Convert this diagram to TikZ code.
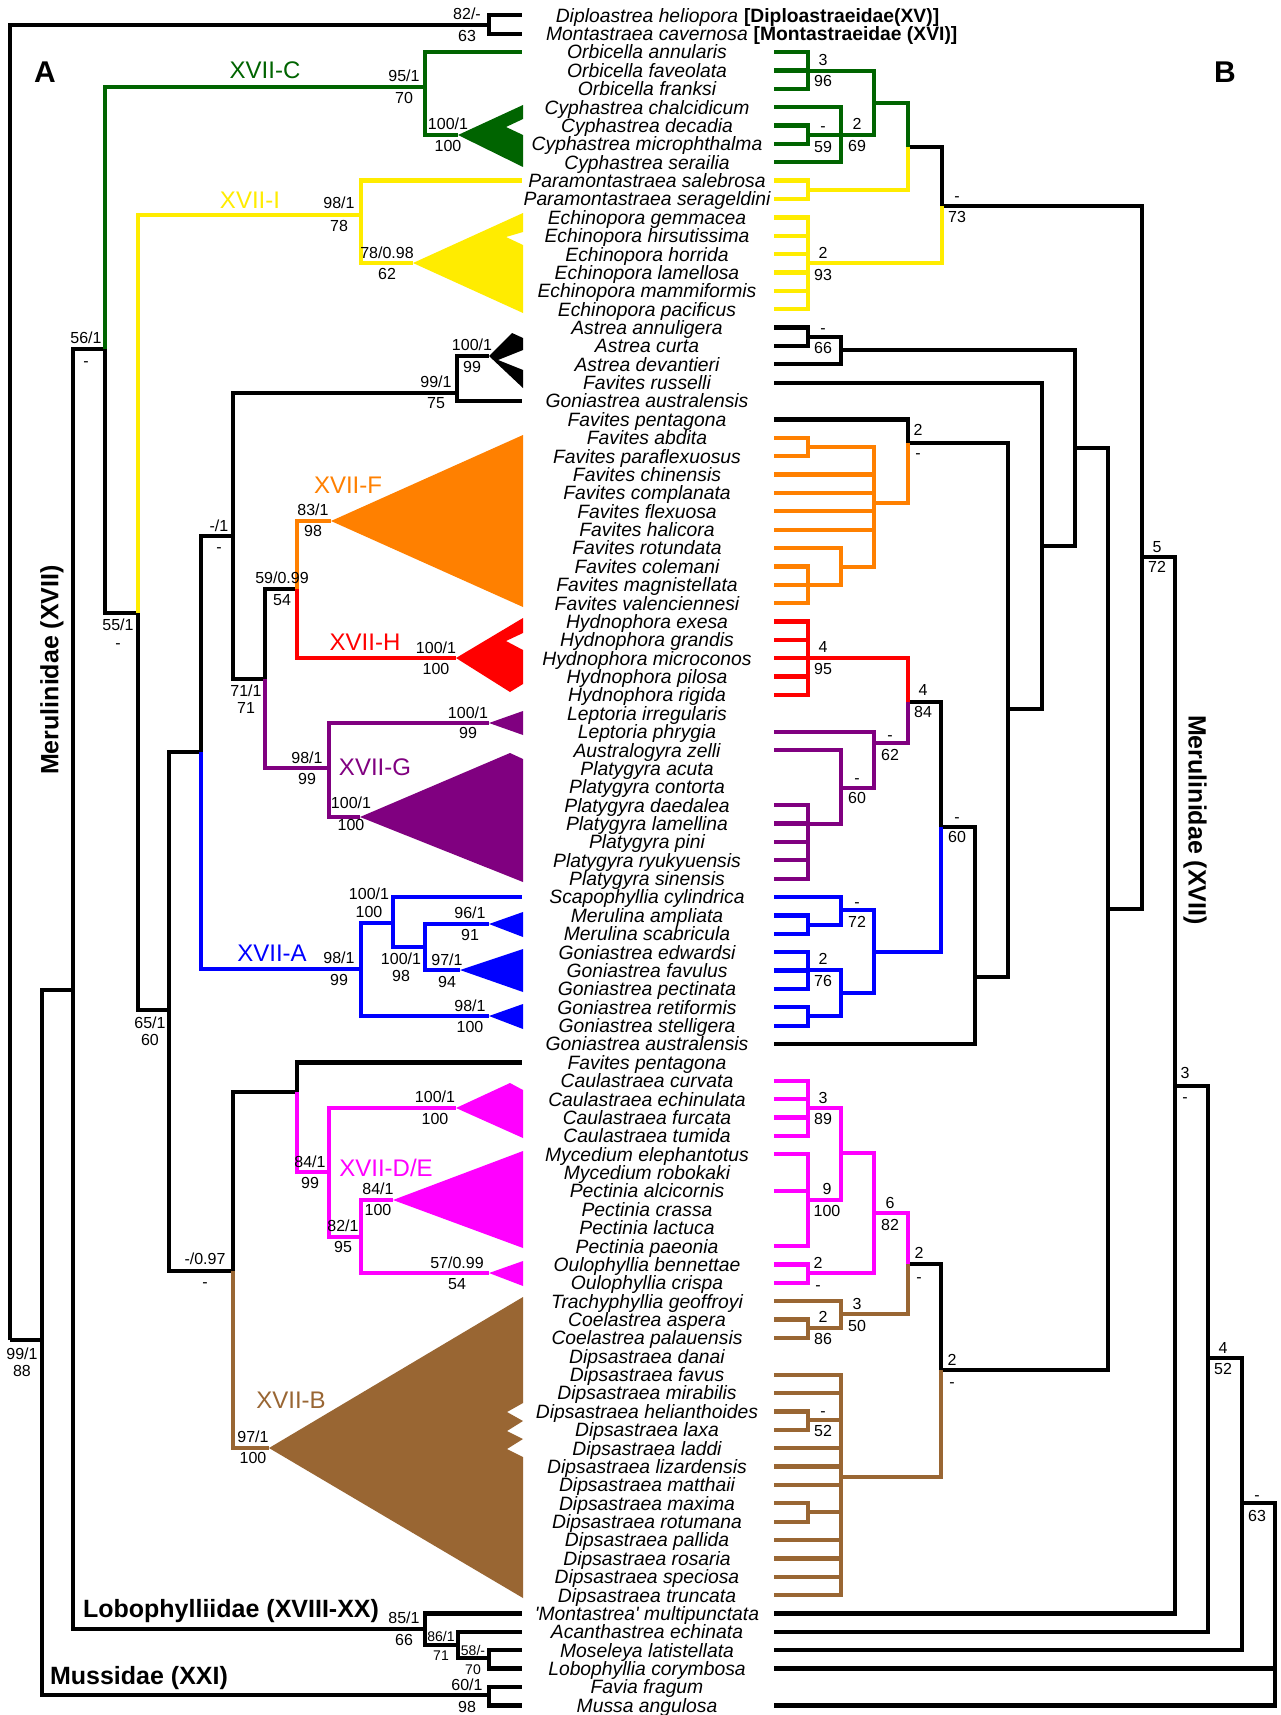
\documentclass[tikz,border=0pt]{standalone}
\usepackage{fontspec}
\setmainfont{Liberation Sans}

\definecolor{cladeC}{HTML}{006400}
\definecolor{cladeI}{HTML}{FFEC00}
\definecolor{cladeF}{HTML}{FF8000}
\definecolor{cladeH}{HTML}{FF0000}
\definecolor{cladeG}{HTML}{800080}
\definecolor{cladeA}{HTML}{0000FF}
\definecolor{cladeD}{HTML}{FF00FF}
\definecolor{cladeB}{HTML}{996633}

\tikzset{
  branch/.style={line width=4.3pt, line join=miter},
  taxon/.style={font=\fontsize{19.3}{22}\selectfont\itshape, anchor=base, yshift=-6.9pt, inner sep=0pt},
  fam/.style={font=\fontsize{19.3}{22}\selectfont\bfseries, anchor=base west, inner sep=0pt},
  bs/.style={font=\fontsize{16}{18}\selectfont, anchor=base, yshift=-5.7pt, inner sep=0pt},
  bss/.style={font=\fontsize{14}{16}\selectfont, anchor=base, yshift=-5pt, inner sep=0pt},
  clade/.style={font=\fontsize{24}{26}\selectfont, anchor=base, yshift=-8.6pt, inner sep=0pt},
  family/.style={font=\fontsize{25}{28}\selectfont\bfseries, inner sep=0pt},
  panel/.style={font=\fontsize{30}{32}\selectfont\bfseries, anchor=base, yshift=-10.7pt, inner sep=0pt}
}

% support values: name, x, y of upper and lower value
\newcommand{\bsl}[7][bs]{%
  \node[#1] (#2t) at (#3,#4) {#6};
  \node[#1] (#2b) at (#3,#5) {#7};}

\begin{document}
\begin{tikzpicture}[x=1pt,y=-1pt]
\useasboundingbox (0,0) rectangle (1280,1715);
\fill[white] (0,0) rectangle (1280,1715);

% taxa, with tip points of both trees
\foreach \nm [count=\i] in {Diploastrea heliopora, Montastraea cavernosa,
  Orbicella annularis, Orbicella faveolata, Orbicella franksi,
  Cyphastrea chalcidicum, Cyphastrea decadia, Cyphastrea microphthalma, Cyphastrea serailia,
  Paramontastraea salebrosa, Paramontastraea serageldini,
  Echinopora gemmacea, Echinopora hirsutissima, Echinopora horrida, Echinopora lamellosa,
  Echinopora mammiformis, Echinopora pacificus,
  Astrea annuligera, Astrea curta, Astrea devantieri, Favites russelli, Goniastrea australensis,
  Favites pentagona, Favites abdita, Favites paraflexuosus, Favites chinensis, Favites complanata,
  Favites flexuosa, Favites halicora, Favites rotundata, Favites colemani, Favites magnistellata,
  Favites valenciennesi,
  Hydnophora exesa, Hydnophora grandis, Hydnophora microconos, Hydnophora pilosa, Hydnophora rigida,
  Leptoria irregularis, Leptoria phrygia, Australogyra zelli,
  Platygyra acuta, Platygyra contorta, Platygyra daedalea, Platygyra lamellina, Platygyra pini,
  Platygyra ryukyuensis, Platygyra sinensis,
  Scapophyllia cylindrica, Merulina ampliata, Merulina scabricula,
  Goniastrea edwardsi, Goniastrea favulus, Goniastrea pectinata, Goniastrea retiformis,
  Goniastrea stelligera, Goniastrea australensis, Favites pentagona,
  Caulastraea curvata, Caulastraea echinulata, Caulastraea furcata, Caulastraea tumida,
  Mycedium elephantotus, Mycedium robokaki,
  Pectinia alcicornis, Pectinia crassa, Pectinia lactuca, Pectinia paeonia,
  Oulophyllia bennettae, Oulophyllia crispa,
  Trachyphyllia geoffroyi, Coelastrea aspera, Coelastrea palauensis,
  Dipsastraea danai, Dipsastraea favus, Dipsastraea mirabilis, Dipsastraea helianthoides,
  Dipsastraea laxa, Dipsastraea laddi, Dipsastraea lizardensis, Dipsastraea matthaii,
  Dipsastraea maxima, Dipsastraea rotumana, Dipsastraea pallida, Dipsastraea rosaria,
  Dipsastraea speciosa, Dipsastraea truncata,
  \textquotesingle Montastrea\textquotesingle\ multipunctata, Acanthastrea echinata,
  Moseleya latistellata, Lobophyllia corymbosa, Favia fragum, Mussa angulosa}
{
  \pgfmathsetmacro{\yy}{15.3+(\i-1)*18.37}
  \node[taxon] (t\i) at (647,\yy) {\nm};
  \coordinate (L\i) at (522,\yy);
  \coordinate (R\i) at (774,\yy);
}
\node[fam] (f1) at ([xshift=5.4pt]t1.base east) {[Diploastraeidae(XV)]};
\node[fam] (f2) at ([xshift=5.4pt]t2.base east) {[Montastraeidae (XVI)]};

% ---------- tree A ----------
\coordinate (rA) at (10,1340);
\coordinate (dip) at (489,25);
\coordinate (n42) at (42,1340);
\coordinate (mus) at (489,1695);
\coordinate (n73) at (73,990);
\coordinate (lob) at (425,1629);
\coordinate (n458) at (458,1645);
\coordinate (n489) at (489,1658);
\coordinate (n105) at (105,349);
\coordinate (xC) at (425,87);
\coordinate (cyA) at (458,135);
\coordinate (n138) at (138,613);
\coordinate (xI) at (361,215);
\coordinate (echA) at (413,263);
\coordinate (n169) at (169,1010);
\coordinate (n201) at (201,752);
\coordinate (n233a) at (233,536);
\coordinate (n457) at (457,393);
\coordinate (astA) at (489,356);
\coordinate (n265) at (265,679);
\coordinate (n297a) at (297,589);
\coordinate (favA) at (331,521);
\coordinate (hydA) at (456,658);
\coordinate (xG) at (329,768);
\coordinate (lepA) at (489,723);
\coordinate (plaA) at (360,817);
\coordinate (xA) at (361,969);
\coordinate (n393) at (393,923);
\coordinate (n425) at (425,947);
\coordinate (merA) at (489,924);
\coordinate (gonA) at (460,970);
\coordinate (retA) at (489,1016);
\coordinate (n233b) at (233,1271);
\coordinate (n297b) at (297,1092);
\coordinate (xD) at (329,1172);
\coordinate (cauA) at (456,1108);
\coordinate (n361) at (361,1237);
\coordinate (pecA) at (393,1200);
\coordinate (ouA) at (489,1273);
\coordinate (dipA) at (269,1448);

\draw[branch] (rA) |- (dip) (rA) |- (n42)
  (dip) |- (L1) (dip) |- (L2)
  (n42) |- (n73) (n42) |- (mus) (mus) |- (L92) (mus) |- (L93)
  (n73) |- (n105) (n73) |- (lob)
  (lob) |- (L88) (lob) |- (n458) (n458) |- (L89) (n458) |- (n489)
  (n489) |- (L90) (n489) |- (L91)
  (n105) |- (n138) (n138) |- (n169)
  (n169) |- (n201) (n169) |- (n233b) (n201) |- (n233a)
  (n233a) |- (n457) (n233a) |- (n265) (n457) |- (astA) (n457) |- (L22)
  (n265) |- (n297a) (n233b) |- (n297b) (n297b) |- (L58);
\draw[branch,cladeC] (n105) |- (xC) (xC) |- (L3) (xC) |- (cyA);
\draw[branch,cladeI] (n138) |- (xI) (xI) |- (L10) (xI) |- (echA);
\draw[branch,cladeF] (n297a) |- (favA);
\draw[branch,cladeH] (n297a) |- (hydA);
\draw[branch,cladeG] (n265) |- (xG) (xG) |- (lepA) (xG) |- (plaA);
\draw[branch,cladeA] (n201) |- (xA) (xA) |- (n393) (xA) |- (retA)
  (n393) |- (L49) (n393) |- (n425) (n425) |- (merA) (n425) |- (gonA);
\draw[branch,cladeD] (n297b) |- (xD) (xD) |- (cauA) (xD) |- (n361)
  (n361) |- (pecA) (n361) |- (ouA);
\draw[branch,cladeB] (n233b) |- (dipA);

% collapsed clades
\fill[cladeC] (cyA) -- (523,105) -- (523,119) -- (506,127) -- (523,135) -- (523,167) -- cycle;
\fill[cladeI] (echA) -- (523,213) -- (523,232) -- (506,237) -- (523,245) -- (523,313) -- cycle;
\fill (astA) -- (512,333) -- (523,338) -- (523,350) -- (498,360) -- (523,370) -- (523,388) -- cycle;
\fill[cladeF] (favA) -- (523,435) -- (523,607) -- cycle;
\fill[cladeH] (hydA) -- (523,618) -- (523,633) -- (506,641) -- (523,650) -- (523,684) -- (510,692) -- cycle;
\fill[cladeG] (lepA) -- (523,711) -- (523,735) -- cycle;
\fill[cladeG] (plaA) -- (510,753) -- (523,759) -- (523,882) -- cycle;
\fill[cladeA] (merA) -- (523,912) -- (523,937) -- cycle;
\fill[cladeA] (gonA) -- (523,949) -- (523,992) -- cycle;
\fill[cladeA] (retA) -- (523,1004) -- (523,1029) -- cycle;
\fill[cladeD] (cauA) -- (510,1083) -- (523,1090) -- (523,1138) -- cycle;
\fill[cladeD] (pecA) -- (523,1151) -- (523,1248) -- cycle;
\fill[cladeD] (ouA) -- (523,1261) -- (523,1286) -- cycle;
\fill[cladeB] (dipA) -- (523,1297) -- (523,1403) -- (507,1412) -- (523,1421) -- (507,1431)
  -- (523,1439) -- (507,1449) -- (523,1457) -- (523,1598) -- cycle;

\bsl{a82}{467}{14}{36}{82/-}{63}
\bsl{a99}{22}{1354}{1371}{99/1}{88}
\bsl{a60}{467}{1685}{1707}{60/1}{98}
\bsl{a85}{404}{1618}{1640}{85/1}{66}
\bsl[bss]{a86}{441}{1636}{1655}{86/1}{71}
\bsl[bss]{a58}{473}{1650}{1669}{58/-}{70}
\bsl{a56}{86}{338}{361}{56/1}{-}
\bsl{a95}{404}{76}{98}{95/1}{70}
\bsl{a100c}{448}{124}{146}{100/1}{100}
\bsl{a55}{118}{625}{643}{55/1}{-}
\bsl{a98i}{339}{203}{226}{98/1}{78}
\bsl{a78}{387}{253}{274}{78/0.98}{62}
\bsl{a65}{150}{1023}{1040}{65/1}{60}
\bsl{a1}{219}{526}{547}{-/1}{-}
\bsl{a99b}{436}{382}{403}{99/1}{75}
\bsl{a100a}{472}{345}{367}{100/1}{99}
\bsl{a71}{246}{691}{708}{71/1}{71}
\bsl{a59}{282}{578}{600}{59/0.99}{54}
\bsl{a83}{313}{510}{531}{83/1}{98}
\bsl{a100h}{436}{648}{669}{100/1}{100}
\bsl{a98g}{307}{758}{779}{98/1}{99}
\bsl{a100l}{468}{713}{733}{100/1}{99}
\bsl{a100p}{351}{803}{825}{100/1}{100}
\bsl{a98a}{339}{958}{980}{98/1}{99}
\bsl{a100s}{369}{894}{912}{100/1}{100}
\bsl{a100m}{401}{959}{976}{100/1}{98}
\bsl{a96}{470}{913}{935}{96/1}{91}
\bsl{a97}{447}{960}{982}{97/1}{94}
\bsl{a98r}{470}{1006}{1027}{98/1}{100}
\bsl{a097}{205}{1259}{1282}{-/0.97}{-}
\bsl{a84}{310}{1162}{1183}{84/1}{99}
\bsl{a100ca}{435}{1097}{1119}{100/1}{100}
\bsl{a82d}{343}{1226}{1247}{82/1}{95}
\bsl{a84p}{378}{1189}{1210}{84/1}{100}
\bsl{a57}{457}{1263}{1284}{57/0.99}{54}
\bsl{a97b}{253}{1437}{1458}{97/1}{100}

\node[clade,cladeC] (labC) at (265,70) {XVII-C};
\node[clade,cladeI] (labI) at (250,200) {XVII-I};
\node[clade,cladeF] (labF) at (348,485) {XVII-F};
\node[clade,cladeH] (labH) at (365,642) {XVII-H};
\node[clade,cladeG] (labG) at (375,767) {XVII-G};
\node[clade,cladeA] (labA) at (272,953) {XVII-A};
\node[clade,cladeD] (labD) at (386,1168) {XVII-D/E};
\node[clade,cladeB] (labB) at (291,1400) {XVII-B};

\node[family,rotate=90] (merA) at (52,670) {Merulinidae (XVII)};
\node[family,anchor=base,yshift=-9pt] (lobA) at (231,1608) {Lobophylliidae (XVIII-XX)};
\node[family,anchor=base,yshift=-9pt] (musA) at (139,1675) {Mussidae (XXI)};
\node[panel] (pA) at (45,72) {A};

% ---------- tree B ----------
\coordinate (Orb) at (808,71);
\coordinate (CyA) at (808,135);
\coordinate (Cy) at (841,135);
\coordinate (OC) at (874,103);
\coordinate (Par) at (808,190);
\coordinate (G) at (908,147);
\coordinate (Ech) at (808,263);
\coordinate (CI) at (942,206);
\coordinate (AsA) at (808,337);
\coordinate (As) at (841,350);
\coordinate (N1075) at (1075,448);
\coordinate (N1042) at (1042,546);
\coordinate (N1008) at (1008,709);
\coordinate (FpO) at (908,443);
\coordinate (Or1) at (808,447);
\coordinate (Or2) at (874,503);
\coordinate (Or3) at (808,585);
\coordinate (Or4) at (841,567);
\coordinate (Hyd) at (808,658);
\coordinate (HP) at (908,702);
\coordinate (Pu1) at (874,743);
\coordinate (Pu2) at (841,788);
\coordinate (Pla) at (808,824);
\coordinate (N941a) at (941,827);
\coordinate (Bl1) at (808,925);
\coordinate (Bl2) at (841,910);
\coordinate (Bl4) at (808,970);
\coordinate (Bl6) at (808,1016);
\coordinate (Bl5) at (841,993);
\coordinate (Bl3) at (874,952);
\coordinate (N975) at (975,977);
\coordinate (N1142) at (1142,557);
\coordinate (N1108) at (1108,909);
\coordinate (N1175) at (1175,1086);
\coordinate (N1208) at (1208,1358);
\coordinate (N1242) at (1242,1503);
\coordinate (rB) at (1275,1600);
\coordinate (Ca) at (808,1108);
\coordinate (My) at (808,1200);
\coordinate (Mg1) at (841,1153);
\coordinate (Ou) at (808,1273);
\coordinate (Mg2) at (874,1213);
\coordinate (Co) at (808,1328);
\coordinate (Br1) at (841,1314);
\coordinate (MB) at (908,1264);
\coordinate (DpA) at (808,1420);
\coordinate (DpB) at (808,1512);
\coordinate (Dip) at (841,1477);
\coordinate (N941b) at (941,1370);

\draw[branch] (CI) |- (G) (N1142) |- (CI) (N1142) |- (N1108)
  (N1108) |- (N1075) (N1108) |- (N941b) (N1075) |- (As) (N1075) |- (N1042)
  (As) |- (AsA) (As) |- (R20) (AsA) |- (R18) (AsA) |- (R19)
  (N1042) |- (R21) (N1042) |- (N1008) (N1008) |- (FpO) (N1008) |- (N975)
  (FpO) |- (R23) (N975) |- (N941a) (N975) |- (R57) (N941a) |- (HP) (N941b) |- (MB)
  (N1175) |- (N1142) (N1175) |- (R88) (N1208) |- (N1175) (N1208) |- (R89)
  (N1242) |- (N1208) (N1242) |- (R90) (rB) |- (N1242) (rB) |- (R91) (rB) |- (R93);
\draw[branch,cladeC] (G) |- (OC) (OC) |- (Orb) (OC) |- (Cy)
  (Cy) |- (R6) (Cy) |- (CyA) (Cy) |- (R9) (CyA) |- (R7) (CyA) |- (R8);
\foreach \k in {3,4,5} \draw[branch,cladeC] (Orb) |- (R\k);
\draw[branch,cladeI] (G) |- (Par) (Par) |- (R10) (Par) |- (R11) (CI) |- (Ech);
\foreach \k in {12,...,17} \draw[branch,cladeI] (Ech) |- (R\k);
\draw[branch,cladeF] (FpO) |- (Or2) (Or2) |- (Or1) (Or2) |- (Or4)
  (Or1) |- (R24) (Or1) |- (R25) (Or4) |- (R30) (Or4) |- (Or3);
\foreach \k in {26,...,29} \draw[branch,cladeF] (Or2) |- (R\k);
\foreach \k in {31,32,33} \draw[branch,cladeF] (Or3) |- (R\k);
\draw[branch,cladeH] (HP) |- (Hyd);
\foreach \k in {34,...,38} \draw[branch,cladeH] (Hyd) |- (R\k);
\draw[branch,cladeG] (HP) |- (Pu1) (Pu1) |- (R40) (Pu1) |- (Pu2) (Pu2) |- (R41) (Pu2) |- (Pla);
\foreach \k in {44,...,48} \draw[branch,cladeG] (Pla) |- (R\k);
\draw[branch,cladeA] (N941a) |- (Bl3) (Bl3) |- (Bl2) (Bl3) |- (Bl5)
  (Bl2) |- (R49) (Bl2) |- (Bl1) (Bl1) |- (R50) (Bl1) |- (R51)
  (Bl5) |- (Bl4) (Bl5) |- (Bl6) (Bl6) |- (R55) (Bl6) |- (R56);
\foreach \k in {52,53,54} \draw[branch,cladeA] (Bl4) |- (R\k);
\draw[branch,cladeD] (MB) |- (Mg2) (Mg2) |- (Mg1) (Mg2) |- (Ou)
  (Mg1) |- (Ca) (Mg1) |- (My) (Ou) |- (R69) (Ou) |- (R70);
\foreach \k in {59,...,62} \draw[branch,cladeD] (Ca) |- (R\k);
\foreach \k in {63,65,68} \draw[branch,cladeD] (My) |- (R\k);
\draw[branch,cladeB] (MB) |- (Br1) (Br1) |- (R71) (Br1) |- (Co) (Co) |- (R72) (Co) |- (R73)
  (N941b) |- (Dip) (Dip) |- (DpA) (Dip) |- (DpB)
  (DpA) |- (R77) (DpA) |- (R78) (DpB) |- (R82) (DpB) |- (R83);
\foreach \k in {75,76,79,80,81,84,85,86,87} \draw[branch,cladeB] (Dip) |- (R\k);

\bsl{b3}{823}{60}{81}{3}{96}
\bsl{b59}{823}{126}{147}{-}{59}
\bsl{b69}{857}{124}{146}{2}{69}
\bsl{b73}{957}{196}{217}{-}{73}
\bsl{b93}{823}{253}{275}{2}{93}
\bsl{b66}{823}{328}{348}{-}{66}
\bsl{b2f}{918}{430}{453}{2}{-}
\bsl{b95}{823}{647}{669}{4}{95}
\bsl{b84}{923}{690}{712}{4}{84}
\bsl{b62}{890}{735}{755}{-}{62}
\bsl{b60p}{857}{778}{798}{-}{60}
\bsl{b60b}{957}{817}{837}{-}{60}
\bsl{b72b}{857}{902}{922}{-}{72}
\bsl{b76}{823}{959}{981}{2}{76}
\bsl{b72}{1157}{547}{567}{5}{72}
\bsl{b3m}{1185}{1073}{1097}{3}{-}
\bsl{b52}{1223}{1348}{1369}{4}{52}
\bsl{b63}{1257}{1495}{1516}{-}{63}
\bsl{b89}{823}{1098}{1119}{3}{89}
\bsl{b100}{827}{1189}{1211}{9}{100}
\bsl{b2o}{818}{1263}{1285}{2}{-}
\bsl{b82}{890}{1203}{1225}{6}{82}
\bsl{b2mb}{919}{1253}{1277}{2}{-}
\bsl{b86}{823}{1317}{1339}{2}{86}
\bsl{b50}{857}{1304}{1326}{3}{50}
\bsl{b2d}{952}{1360}{1382}{2}{-}
\bsl{b52d}{823}{1411}{1431}{-}{52}

\node[family,rotate=-90] (merB) at (1195,820) {Merulinidae (XVII)};
\node[panel] (pB) at (1225,72) {B};
\end{tikzpicture}
\end{document}
